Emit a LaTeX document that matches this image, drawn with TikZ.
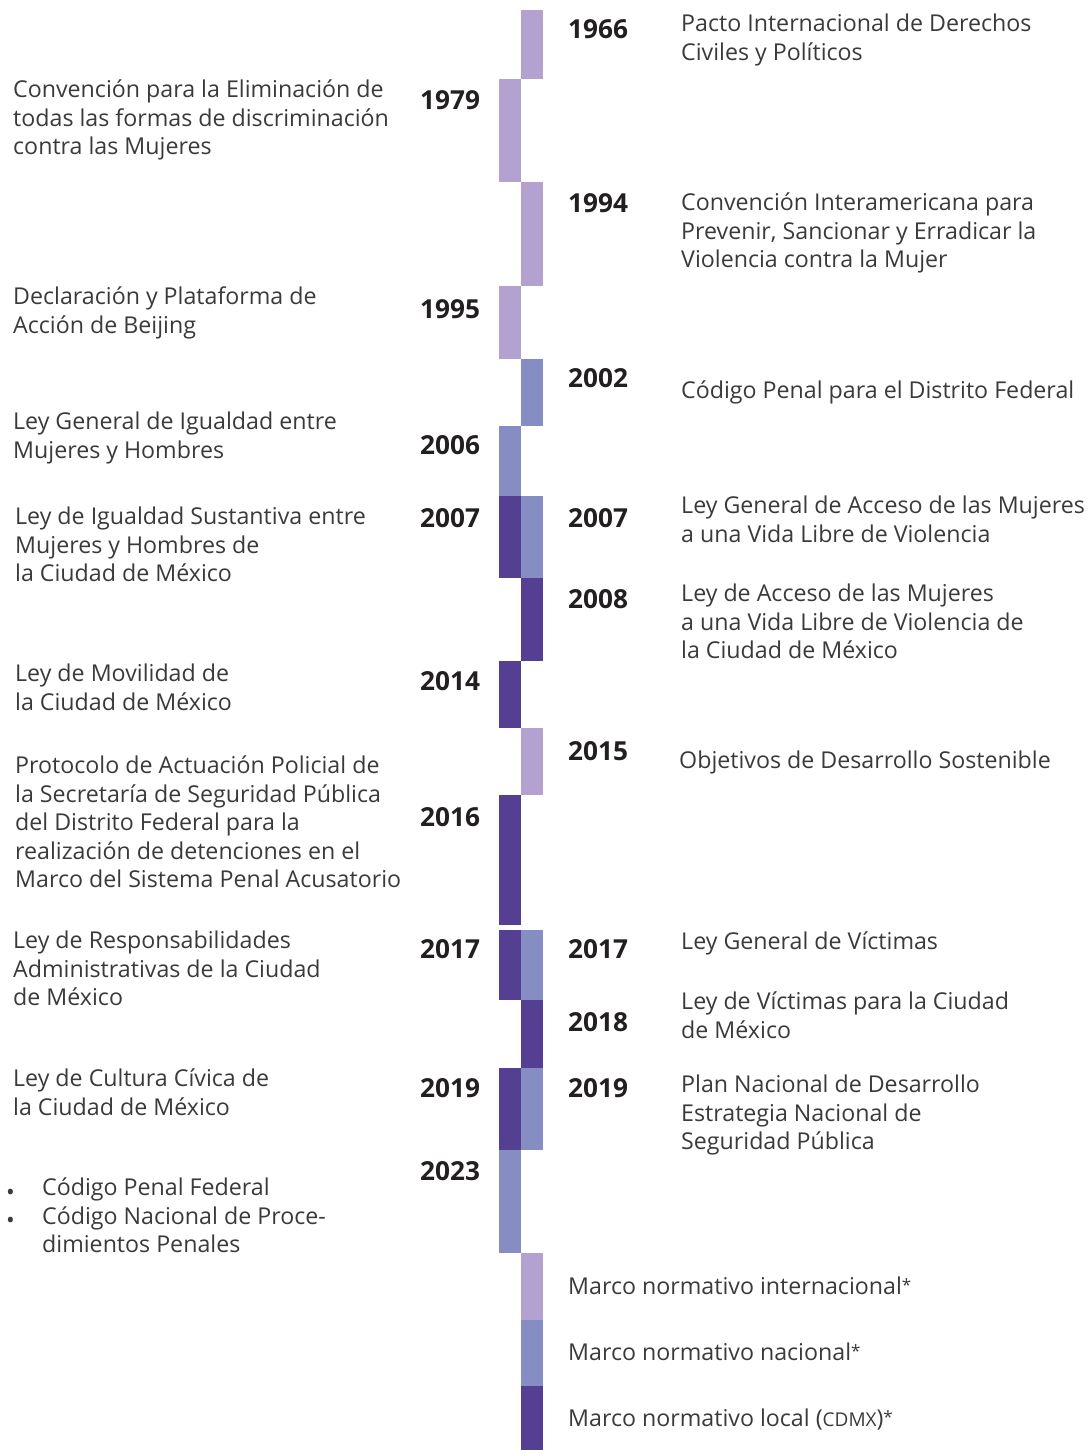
\documentclass[tikz,border=0pt]{standalone}
\usepackage{fontspec}
\setmainfont{Open Sans}
\usepackage{xcolor}
\definecolor{intlcol}{HTML}{B3A2CF}
\definecolor{naccol}{HTML}{858DC3}
\definecolor{loccol}{HTML}{553F92}
\definecolor{txtgray}{HTML}{3A3A3A}
\definecolor{yearblack}{HTML}{231F20}
\newcommand{\legendstar}{\raisebox{3pt}{\fontsize{17}{17}\selectfont *}}

\tikzset{
  intl/.style={fill=intlcol},
  nac/.style={fill=naccol},
  loc/.style={fill=loccol},
  lawtext/.style={anchor=north west, inner sep=0pt, align=left, yshift=24pt,
    text=txtgray, font=\fontsize{23.2}{28.5}\selectfont,
    execute at begin node={\rule{0pt}{24pt}}},
  yearlabel/.style={anchor=base west, inner sep=0pt, text=yearblack,
    font=\fontsize{26.2}{30}\selectfont\bfseries},
}

\begin{document}
\begin{tikzpicture}[x=1pt,y=-1pt]
\useasboundingbox (0,0) rectangle (1087,1450);

%Shapes: timeline bars (left column 499--521, right column 521--543)
\foreach \sty/\xa/\xb/\ya/\yb in {
  intl/521/543/10/79, intl/499/521/79/182, intl/521/543/182/286,
  intl/499/521/286/359, nac/521/543/359/426, nac/499/521/426/496,
  loc/499/521/496/578, nac/521/543/496/578, loc/521/543/578/661,
  loc/499/521/661/728, intl/521/543/728/795, loc/499/521/795/925,
  loc/499/521/930/1000, nac/521/543/930/1000, loc/521/543/1000/1068,
  loc/499/521/1068/1150, nac/521/543/1068/1150, nac/499/521/1150/1253,
  intl/521/543/1253/1320, nac/521/543/1320/1386, loc/521/543/1386/1450}
  \fill [\sty] (\xa,\ya) rectangle (\xb,\yb);

% Years, left side
\node [yearlabel] (y1979) at (420,110) {1979};
\node [yearlabel] (y1995) at (420,318) {1995};
\node [yearlabel] (y2006) at (420,454) {2006};
\node [yearlabel] (y2007l) at (420,527) {2007};
\node [yearlabel] (y2014) at (420,690) {2014};
\node [yearlabel] (y2016) at (420,826) {2016};
\node [yearlabel] (y2017l) at (420,958) {2017};
\node [yearlabel] (y2019l) at (420,1097) {2019};
\node [yearlabel] (y2023) at (420,1180) {2023};
% Years, right side
\node [yearlabel] (y1966) at (568,39) {1966};
\node [yearlabel] (y1994) at (568,212) {1994};
\node [yearlabel] (y2002) at (568,387) {2002};
\node [yearlabel] (y2007r) at (568,527) {2007};
\node [yearlabel] (y2008) at (568,608) {2008};
\node [yearlabel] (y2015) at (568,760) {2015};
\node [yearlabel] (y2017r) at (568,958) {2017};
\node [yearlabel] (y2018) at (568,1031) {2018};
\node [yearlabel] (y2019r) at (568,1097) {2019};

% Text Node: left side
\node [lawtext] (cedaw) at (13,104) {Convención para la Eliminación de\\todas las formas de discriminación\\contra las Mujeres};
\node [lawtext] (beijing) at (13,311) {Declaración y Plataforma de\\Acción de Beijing};
\node [lawtext] (igualdad) at (13,436) {Ley General de Igualdad entre\\Mujeres y Hombres};
\node [lawtext] (sustantiva) at (15,531) {Ley de Igualdad Sustantiva entre\\Mujeres y Hombres de\\la Ciudad de México};
\node [lawtext] (movilidad) at (15,688) {Ley de Movilidad de\\la Ciudad de México};
\node [lawtext] (protocolo) at (15,780) {Protocolo de Actuación Policial de\\la Secretaría de Seguridad Pública\\del Distrito Federal para la\\realización de detenciones en el\\Marco del Sistema Penal Acusatorio};
\node [lawtext] (responsab) at (13,955) {Ley de Responsabilidades\\Administrativas de la Ciudad\\de México};
\node [lawtext] (civica) at (13,1093) {Ley de Cultura Cívica de\\la Ciudad de México};
\node [lawtext] (codigos) at (42,1202) {Código Penal Federal\\Código Nacional de Proce-\\dimientos Penales};
\node [lawtext] (bulleta) at (6,1200) {•};
\node [lawtext] (bulletb) at (6,1228) {•};

% Text Node: right side
\node [lawtext] (pacto) at (681,38) {Pacto Internacional de Derechos\\Civiles y Políticos};
\node [lawtext] (belem) at (681,217) {Convención Interamericana para\\Prevenir, Sancionar y Erradicar la\\Violencia contra la Mujer};
\node [lawtext] (penaldf) at (681,398) {Código Penal para el Distrito Federal};
\node [lawtext] (acceso) at (681,520) {Ley General de Acceso de las Mujeres\\a una Vida Libre de Violencia};
\node [lawtext] (accesocdmx) at (681,608) {Ley de Acceso de las Mujeres\\a una Vida Libre de Violencia de\\la Ciudad de México};
\node [lawtext] (ods) at (679,768) {Objetivos de Desarrollo Sostenible};
\node [lawtext] (victimas) at (681,949) {Ley General de Víctimas};
\node [lawtext] (victimascdmx) at (681,1016) {Ley de Víctimas para la Ciudad\\de México};
\node [lawtext] (plan) at (681,1099) {Plan Nacional de Desarrollo\\Estrategia Nacional de\\Seguridad Pública};

% Text Node: legend
\node [lawtext] (leyintl) at (568,1294) {Marco normativo internacional\legendstar};
\node [lawtext] (leynac) at (568,1360) {Marco normativo nacional\legendstar};
\node [lawtext] (leyloc) at (568,1426) {Marco normativo local ({\fontsize{19}{20}\selectfont CDMX})\legendstar};
\end{tikzpicture}
\end{document}
